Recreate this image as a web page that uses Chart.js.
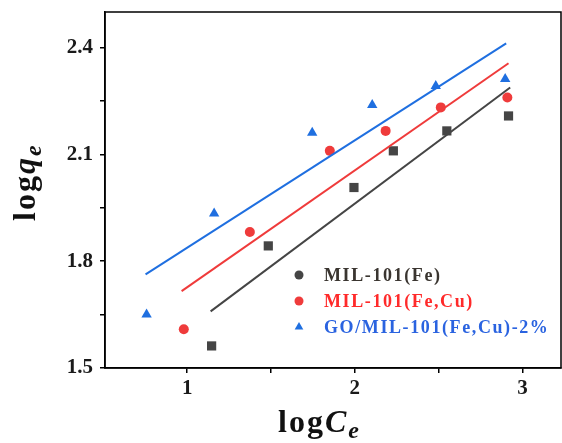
<!DOCTYPE html>
<html>
<head>
<meta charset="utf-8">
<script src="https://cdn.jsdelivr.net/npm/chart.js@4/dist/chart.umd.min.js"></script>
<style>
  html, body { margin: 0; padding: 0; background: #fff; }
  #wrap { width: 562px; height: 443px; }
</style>
</head>
<body>
<div id="wrap"><canvas id="grafico" width="562" height="443"></canvas></div>
<script>
// data (logCe, logqe)
var seriesNames = ['MIL-101(Fe)', 'MIL-101(Fe,Cu)', 'GO/MIL-101(Fe,Cu)-2%'];

var feX = [1.146, 1.484, 1.995, 2.230, 2.549, 2.917];
var feY = [1.562, 1.843, 2.007, 2.110, 2.166, 2.208];

var feCuX = [0.980, 1.374, 1.851, 2.184, 2.513, 2.910];
var feCuY = [1.609, 1.882, 2.110, 2.166, 2.232, 2.260];

var goX = [0.758, 1.161, 1.746, 2.104, 2.483, 2.897];
var goY = [1.650, 1.934, 2.161, 2.239, 2.292, 2.312];

// linear fits (end points)
var fitFeX = [1.140, 2.927];
var fitFeY = [1.659, 2.288];
var fitFeCuX = [0.967, 2.917];
var fitFeCuY = [1.716, 2.356];
var fitGoX = [0.752, 2.903];
var fitGoY = [1.763, 2.412];

var xTicks = [1, 1.5, 2, 2.5, 3];
var xLabels = ['1', '', '2', '', '3'];
var yTicks = [1.5, 1.65, 1.8, 1.95, 2.1, 2.25, 2.4];
var yLabels = ['1.5', '', '1.8', '', '2.1', '', '2.4'];

var colors = ['#454545', '#ef3b3b', '#1f6fe0'];
var textColors = ['#3a3530', '#ff2a2a', '#2a63e0'];
var styles = ['rect', 'circle', 'triangle'];
var legendStyles = ['circle', 'circle', 'triangle'];

function pts(xs, ys) {
  return xs.map(function (x, i) { return { x: x, y: ys[i] }; });
}

var pointSets = [pts(feX, feY), pts(feCuX, feCuY), pts(goX, goY)];
var fitSets = [pts(fitFeX, fitFeY), pts(fitFeCuX, fitFeCuY), pts(fitGoX, fitGoY)];

var datasets = [];
for (var i = 0; i < 3; i++) {
  datasets.push({
    label: seriesNames[i] + ' fit',
    data: fitSets[i],
    showLine: true,
    borderColor: colors[i],
    borderWidth: 2,
    pointRadius: 0,
    fill: false
  });
}
var radii = [6.5, 5, 6];
for (var j = 0; j < 3; j++) {
  datasets.push({
    label: seriesNames[j],
    data: pointSets[j],
    showLine: false,
    pointStyle: styles[j],
    pointRadius: radii[j],
    backgroundColor: colors[j],
    borderColor: colors[j],
    borderWidth: 0
  });
}

function noPad(s) {
  s.paddingTop = 0; s.paddingBottom = 0; s.paddingLeft = 0; s.paddingRight = 0;
}

// box, legend and axis titles
var extras = {
  id: 'extras',
  afterDraw: function (chart) {
    var c = chart.ctx, a = chart.chartArea;
    c.save();
    c.strokeStyle = '#000';
    c.lineWidth = 1.5;
    c.strokeRect(a.left, a.top, a.right - a.left, a.bottom - a.top);

    // legend
    var rows = [275, 301, 327];
    for (var k = 0; k < 3; k++) {
      c.fillStyle = colors[k];
      c.strokeStyle = colors[k];
      Chart.helpers.drawPoint(c, { pointStyle: legendStyles[k], radius: k == 2 ? 5 : 4.5, borderWidth: 0 }, 299, rows[k]);
      c.fillStyle = textColors[k];
      c.font = 'bold 18px "Liberation Serif"';
      c.letterSpacing = '1.6px';
      c.textBaseline = 'middle';
      c.textAlign = 'left';
      c.fillText(seriesNames[k], 324, rows[k] + 1);
    }

    // x title: log C_e
    c.fillStyle = '#111';
    c.textBaseline = 'alphabetic';
    c.letterSpacing = '2px';
    var x = 278, base = 432;
    c.font = 'bold 32px "Liberation Serif"';
    c.fillText('log', x, base);
    x += c.measureText('log').width;
    c.font = 'italic bold 32px "Liberation Serif"';
    c.fillText('C', x, base);
    x += c.measureText('C').width;
    c.font = 'italic bold 24px "Liberation Serif"';
    c.fillText('e', x, base + 6);

    // y title: log q_e
    c.translate(35, 221);
    c.rotate(-Math.PI / 2);
    x = 0;
    c.font = 'bold 32px "Liberation Serif"';
    c.fillText('log', x, 0);
    x += c.measureText('log').width;
    c.font = 'italic bold 32px "Liberation Serif"';
    c.fillText('q', x, 0);
    x += c.measureText('q').width;
    c.font = 'italic bold 24px "Liberation Serif"';
    c.fillText('e', x, 6);
    c.restore();
  }
};

var ctx = document.getElementById('grafico').getContext('2d');

var myChart = new Chart(ctx, {
  type: 'scatter',
  data: { datasets: datasets },
  options: {
    responsive: false,
    animation: false,
    layout: { autoPadding: false, padding: { top: 12, right: 1, left: 0, bottom: 0 } },
    plugins: {
      legend: { display: false },
      tooltip: { enabled: false }
    },
    scales: {
      x: {
        type: 'linear',
        min: 0.51,
        max: 3.23,
        afterBuildTicks: function (s) {
          s.ticks = xTicks.map(function (v) { return { value: v }; });
        },
        afterFit: function (s) { s.height = 75; noPad(s); },
        grid: { drawOnChartArea: false, color: '#000', lineWidth: 1.5, tickLength: 5 },
        border: { display: true, color: '#000', width: 1.5 },
        ticks: {
          color: '#1a1a1a',
          font: { family: 'Liberation Serif', size: 21, weight: 'bold' },
          padding: 3,
          maxRotation: 0,
          callback: function (v, i) { return xLabels[i]; }
        }
      },
      y: {
        min: 1.5,
        max: 2.5,
        afterBuildTicks: function (s) {
          s.ticks = yTicks.map(function (v) { return { value: v }; });
        },
        afterFit: function (s) { s.width = 105; noPad(s); },
        grid: { drawOnChartArea: false, color: '#000', lineWidth: 1.5, tickLength: 5 },
        border: { display: true, color: '#000', width: 1.5 },
        ticks: {
          color: '#1a1a1a',
          font: { family: 'Liberation Serif', size: 21, weight: 'bold' },
          padding: 7,
          callback: function (v, i) { return yLabels[i]; }
        }
      }
    }
  },
  plugins: [extras]
});
</script>
</body>
</html>
